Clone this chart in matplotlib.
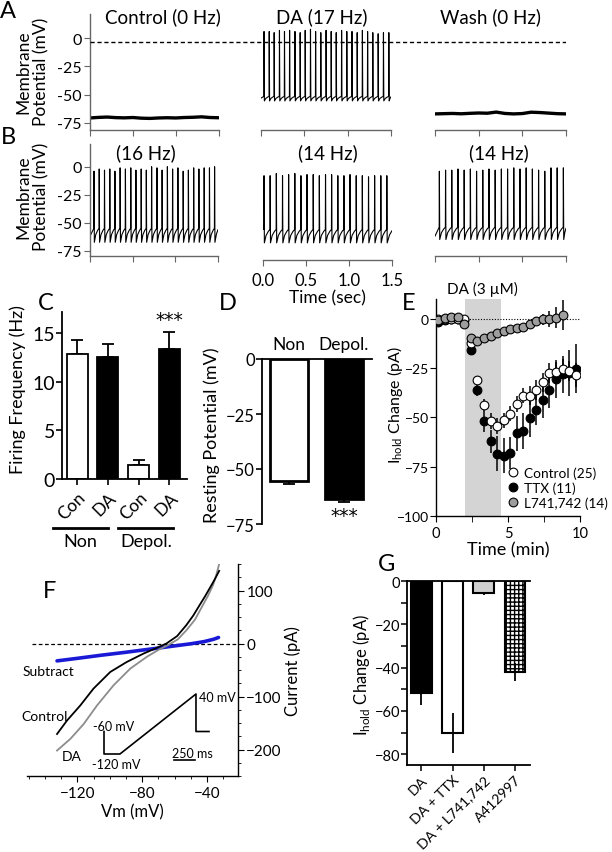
import numpy as np
import matplotlib
matplotlib.use('Agg')
import matplotlib.pyplot as plt
from matplotlib.lines import Line2D
from matplotlib.ticker import MultipleLocator, FixedLocator

plt.rcParams['font.family'] = ['Lato', 'DejaVu Sans']
plt.rcParams['hatch.linewidth'] = 1.0
plt.rcParams['axes.linewidth'] = 1.0

# ---------------- DATA ----------------
# Panel A / B : current-clamp traces (time in s, membrane potential in mV)
A_ctrl_t = [0.0, 0.1, 0.2, 0.3, 0.4, 0.5, 0.6, 0.7, 0.8, 0.9, 1.0, 1.1, 1.2, 1.3, 1.4, 1.5]
A_ctrl_v = [-70.6, -70.1, -69.8, -70.3, -70.5, -70.2, -70.8, -71.0, -70.6, -70.4, -70.6, -70.2, -70.0, -69.6, -70.2, -70.4]
A_wash_v = [-67.0, -66.8, -66.6, -66.9, -66.5, -66.2, -66.4, -65.4, -66.6, -67.0, -66.7, -65.5, -65.8, -66.3, -66.8, -67.0]

A_da_spk_t = [0.035, 0.095, 0.152, 0.213, 0.271, 0.330, 0.392, 0.452, 0.510, 0.571, 0.630,
              0.690, 0.751, 0.810, 0.868, 0.930, 0.990, 1.050, 1.110, 1.170, 1.230, 1.290,
              1.352, 1.413, 1.475]
A_da_peak = [6, 6, 5, 7, 6, 7, 6, 5, 7, 8, 6, 5, 7, 6, 5, 7, 6, 6, 5, 7, 6, 5, 4, 5, 5]

B1_spk_t = [0.047, 0.108, 0.170, 0.232, 0.292, 0.353, 0.415, 0.478, 0.538, 0.600, 0.660, 0.722,
            0.785, 0.845, 0.907, 0.968, 1.030, 1.092, 1.153, 1.215, 1.276, 1.338, 1.400, 1.460]
B1_peak = [-4, -2, -3, -2, -4, -1, -2, -1, -3, -2, -3, 0, -1, -3, 0, -2, -1, -4, -3, -1, -2, -1, -1, 0]
B2_spk_t = [0.012, 0.083, 0.155, 0.227, 0.298, 0.370, 0.441, 0.512, 0.584, 0.655, 0.727,
            0.798, 0.870, 0.941, 1.012, 1.084, 1.155, 1.227, 1.298, 1.370, 1.440]
B2_peak = [-8, -8, -6, -8, -7, -6, -8, -7, -7, -8, -7, -7, -8, -8, -7, -8, -8, -9, -8, -8, -8]
B3_spk_t = [0.050, 0.121, 0.192, 0.263, 0.334, 0.405, 0.476, 0.547, 0.618, 0.689, 0.760,
            0.831, 0.902, 0.973, 1.044, 1.115, 1.186, 1.257, 1.328, 1.399, 1.470]
B3_peak = [-4, -3, -3, -2, -3, -2, -4, -3, -2, -3, -2, -2, -1, -2, -1, -2, -3, -4, -1, -1, -1]

A_titles = ['Control (0 Hz)', 'DA (17 Hz)', 'Wash (0 Hz)']
B_titles = ['(16 Hz)', '(14 Hz)', '(14 Hz)']

# Panel C
C_labels = ['Con', 'DA', 'Con', 'DA']
C_values = [12.85, 12.5, 1.4, 13.3]
C_err = [1.45, 1.3, 0.5, 1.8]
C_colors = ['white', 'black', 'white', 'black']

# Panel D
D_labels = ['Non', 'Depol.']
D_values = [-55.4, -63.7]
D_err = [1.2, 1.2]

# Panel E (time in min, holding current change in pA)
E_time = [0.15, 0.6, 1.06, 1.51, 1.97, 2.42, 2.88, 3.33, 3.79, 4.24, 4.7, 5.15, 5.61,
          6.06, 6.52, 6.97, 7.43, 7.88, 8.34, 8.79, 9.25, 9.7]
E_ctrl = [0, 0, 0, 0, 0, -12, -31.2, -43.8, -51.8, -54.3, -51.5, -48, -43.1, -38.9, -38.9,
          -35.9, -32.2, -27.5, -27.0, -25.5, -26.5, -28.3]
E_ctrl_err = [1, 1, 1, 1, 1, 2, 2, 3, 4, 4, 4, 4, 4, 4, 5, 5, 5, 5, 5, 5, 5, 6]
E_ttx = [-1.7, -0.5, 0, 0, -0.5, -15.6, -35.9, -52, -62.2, -68.3, -69.4, -68, -58.1, -56.8,
         -50.1, -46, -41.3, -36.2, -30.5, -28.2, -27.5, -25.3]
E_ttx_err = [1, 1, 1, 1, 1, 2, 3, 5.5, 6, 9, 9, 8, 9, 9, 10, 8, 9, 9, 9.5, 9.5, 11.7, 12.5]
E_l74 = [-0.5, 0.3, 1.2, 1.2, -2.6, -9.6, -11.1, -9.9, -8.7, -7.4, -6.0, -5.0, -4.5, -4.3,
         -2.7, -1.0, -0.3, 0.0, 0.7, 2.0]
E_l74_err = [1, 1, 1, 1, 1, 1.5, 1.5, 1.5, 1.5, 1.5, 1.5, 1.5, 1.5, 1.5, 2, 2, 3, 4, 5.5, 7.5]
E_labels = ['Control (25)', 'TTX (11)', 'L741,742 (14)']
E_drug = (2.0, 4.5)

# Panel F : I-V ramp (Vm in mV, current in pA)
F_ctrl_v = [-132.5, -126.4, -118.2, -110.0, -99.7, -89.5, -79.2, -72.0, -65.1, -58.5, -52.8, -48.5, -44.6, -41.5, -38.5, -35.5, -32.6]
F_ctrl_i = [-170.8, -145.5, -117.0, -85.0, -53.7, -34.8, -19.0, -9.5, 0.0, 14.0, 34.8, 53.0, 72.7, 88.0, 104.0, 120.0, 137.0]
F_da_v = [-132.5, -124.3, -116.1, -107.9, -97.7, -87.4, -77.1, -70.0, -64.0, -58.0, -52.8, -47.5, -42.6, -39.5, -36.4, -34.5, -32.6]
F_da_i = [-202.0, -180.0, -152.0, -117.0, -79.0, -47.4, -25.0, -12.0, -3.0, 8.0, 25.0, 45.0, 72.7, 90.0, 110.0, 128.0, 150.0]
F_sub_v = [-132.5, -120.0, -105.0, -90.0, -80.0, -69.0, -60.0, -50.0, -42.0, -36.0, -33.0]
F_sub_i = [-32.8, -28.0, -22.0, -16.5, -12.5, -8.2, -4.5, -0.5, 3.5, 8.0, 11.4]
F_prot_t = [0, 0, 190, 1095, 1095, 1250]
F_prot_v = [-60, -120, -120, 40, -60, -60]

# Panel G
G_labels = ['DA', 'DA + TTX', 'DA + L741,742', 'A412997']
G_values = [-51.8, -70.3, -5.7, -42.0]
G_err = [5.7, 9.3, 0.8, 4.0]

# ---------------- FIGURE ----------------
W, H = 612, 853
fig = plt.figure(figsize=(W / 100, H / 100), dpi=100)


def add_ax(x0, y0, x1, y1):
    return fig.add_axes([x0 / W, 1 - y1 / H, (x1 - x0) / W, (y1 - y0) / H])


def ftext(x, y, s, **kw):
    kw.setdefault('ha', 'center')
    kw.setdefault('va', 'center')
    return fig.text(x / W, 1 - y / H, s, **kw)


def fline(xs, ys, **kw):
    fig.add_artist(Line2D([x / W for x in xs], [1 - y / H for y in ys], transform=fig.transFigure, **kw))


def spike_trace(spk_t, peaks, trough, thresh, v_start, t_end=1.5):
    ts, vs = [0.0], [v_start]
    for k, (tk, pk) in enumerate(zip(spk_t, peaks)):
        ts += [tk - 0.002, tk, tk + 0.004]
        vs += [thresh, pk, trough]
        nxt = spk_t[k + 1] - 0.002 if k + 1 < len(spk_t) else t_end
        isi = nxt - (tk + 0.004)
        if k + 1 < len(spk_t):
            ts += [tk + 0.004 + 0.3 * isi, tk + 0.004 + 0.7 * isi]
            vs += [trough + 0.55 * (thresh - trough), trough + 0.85 * (thresh - trough)]
        else:
            ts += [tk + 0.004 + 0.5 * isi, t_end]
            vs += [trough + 0.6 * (thresh - trough), trough + 0.9 * (thresh - trough)]
    return ts, vs


SPC = '#666666'
STAR = dict(family='DejaVu Sans', fontsize=13.5)


def trace_axes(x0, x1, y0, y1, ylim, left):
    ax = add_ax(x0, y0, x1, y1)
    ax.set_xlim(0, 1.5)
    ax.set_ylim(*ylim)
    ax.patch.set_alpha(0)
    for s in ['top', 'right']:
        ax.spines[s].set_visible(False)
    ax.spines['bottom'].set_color(SPC)
    ax.spines['left'].set_color(SPC)
    ax.spines['left'].set_visible(left)
    ax.set_xticks([0, 0.5, 1.0, 1.5])
    ax.set_xticklabels([])
    ax.tick_params(axis='x', length=4, color=SPC, labelsize=12)
    if left:
        ax.set_yticks([0, -25, -50, -75])
        ax.set_yticklabels(['0', '-25', '-50', '-75'])
        ax.tick_params(axis='y', length=4, color=SPC, labelsize=11.5, pad=2)
    else:
        ax.set_yticks([])
    return ax


# ---- Panel A ----
segA = [(90, 218.6), (261, 391), (435, 566)]
ylimA = (-81, 21.5)
axA = [trace_axes(x0, x1, 15, 130.7, ylimA, i == 0) for i, (x0, x1) in enumerate(segA)]
axA[0].plot(A_ctrl_t, A_ctrl_v, color='k', lw=2.4, solid_joinstyle='round')
ts, vs = spike_trace(A_da_spk_t, A_da_peak, -55.5, -51.5, -53.0)
axA[1].plot(ts, vs, color='k', lw=0.8)
axA[2].plot(A_ctrl_t, A_wash_v, color='k', lw=2.4)
ovA = add_ax(90, 15, 566, 130.7)
ovA.set_ylim(*ylimA)
ovA.set_xlim(0, 1)
ovA.axis('off')
ovA.axhline(-3, color='k', lw=1.0, ls=(0, (3, 2)))
ftext(162.5, 17, A_titles[0], fontsize=13.5)
ftext(321.5, 17, A_titles[1], fontsize=13.5)
ftext(490, 17, A_titles[2], fontsize=13.5)
ftext(32, 72, 'Membrane\nPotential (mV)', rotation=90, fontsize=12.5, linespacing=1.15)

# ---- Panel B ----
segB = [(90, 218), (263, 392), (435, 566)]
ylimB = (-80, 20.3)
axB = [trace_axes(x0, x1, 145, 257.3, ylimB, i == 0) for i, (x0, x1) in enumerate(segB)]
ts, vs = spike_trace(B1_spk_t, B1_peak, -67.5, -55.0, -62.0)
axB[0].plot(ts, vs, color='k', lw=0.8)
ts, vs = spike_trace(B2_spk_t, B2_peak, -68.0, -56.0, -52.0)
axB[1].plot(ts, vs, color='k', lw=0.8)
ts, vs = spike_trace(B3_spk_t, B3_peak, -65.0, -54.0, -62.0)
axB[2].plot(ts, vs, color='k', lw=0.8)
axB[1].spines['bottom'].set_position(('outward', 2.5))
axB[1].set_xticklabels(['0.0', '0.5', '1.0', '1.5'])
axB[1].tick_params(axis='x', labelsize=12, pad=5)
ftext(327, 298, 'Time (sec)', fontsize=12.5)
ftext(146, 153, B_titles[0], fontsize=13.5)
ftext(328, 153, B_titles[1], fontsize=13.5)
ftext(499, 153, B_titles[2], fontsize=13.5)
ftext(32, 197, 'Membrane\nPotential (mV)', rotation=90, fontsize=12.5, linespacing=1.15)

# ---- Panel C ----
axC = add_ax(62, 313.3, 187, 480)
xC = np.arange(len(C_values))
axC.bar(xC, C_values, width=0.68, color=C_colors, edgecolor='k', lw=1.3, zorder=2)
axC.errorbar(xC, C_values, yerr=[np.zeros(len(C_err)), C_err], fmt='none', ecolor='k',
             elinewidth=1.3, capsize=4, capthick=1.3, zorder=1)
axC.set_xlim(-0.49, 3.57)
axC.set_ylim(0, 17.1)
for s in ['top', 'right']:
    axC.spines[s].set_visible(False)
axC.spines['left'].set_linewidth(1.3)
axC.spines['bottom'].set_linewidth(1.3)
axC.set_yticks([0, 5, 10, 15])
axC.tick_params(axis='y', labelsize=14, length=4, width=1.2, pad=1)
axC.set_xticks(xC)
axC.set_xticklabels(C_labels, rotation=45, ha='right', va='top', rotation_mode='anchor')
axC.tick_params(axis='x', labelsize=12.5, length=4, width=1.2, pad=3)
axC.text(3, 15.4, '***', ha='center', va='bottom', **STAR)
fline([53, 108], [529, 529], color='k', lw=2.0)
fline([118, 173], [529, 529], color='k', lw=2.0)
ftext(80, 542, 'Non', fontsize=13)
ftext(146, 542, 'Depol.', fontsize=13)
ftext(18, 390, 'Firing Frequency (Hz)', rotation=90, fontsize=13)

# ---- Panel D ----
axD = add_ax(262, 360, 372, 525)
xD = np.arange(len(D_values))
axD.bar(xD, D_values, width=0.69, color=['white', 'black'], edgecolor='k', lw=2.0, zorder=2)
axD.errorbar(xD, D_values, yerr=[D_err, np.zeros(len(D_err))], fmt='none', ecolor='k',
             elinewidth=1.3, capsize=4, capthick=1.3, zorder=1)
axD.set_xlim(-0.49, 1.51)
axD.set_ylim(-75, 0)
for s in ['right', 'bottom']:
    axD.spines[s].set_visible(False)
axD.spines['left'].set_linewidth(1.3)
axD.spines['top'].set_linewidth(1.3)
axD.set_xticks([])
axD.set_yticks([0, -25, -50, -75])
axD.tick_params(axis='y', labelsize=12, length=4, width=1.2, pad=1)
for x, lab in zip(xD, D_labels):
    axD.text(x, 6.8, lab, ha='center', va='center', fontsize=12.5, clip_on=False)
axD.text(1, -66.8, '***', ha='center', va='top', clip_on=False, **STAR)
ftext(212, 435, 'Resting Potential (mV)', rotation=90, fontsize=13)

# ---- Panel E ----
axE = add_ax(436, 300, 580, 517)
axE.set_xlim(0, 10)
axE.set_ylim(-100, 10.1)
axE.axvspan(E_drug[0], E_drug[1], color='#d4d4d4', lw=0, zorder=0)
axE.plot([0, 10], [0, 0], color='k', lw=0.8, ls=(0, (1, 1.5)), zorder=1)
mk = dict(fmt='o', ms=6.3, mec='k', mew=0.8, ecolor='k', elinewidth=1.1, capsize=0)
axE.errorbar(E_time, E_ttx, yerr=E_ttx_err, mfc='black', zorder=3, **mk)
axE.errorbar(E_time, E_ctrl, yerr=E_ctrl_err, mfc='white', zorder=4, **mk)
axE.errorbar(E_time[:len(E_l74)], E_l74, yerr=E_l74_err, mfc='#9e9e9e', zorder=5, **mk)
for s in ['top', 'right']:
    axE.spines[s].set_visible(False)
axE.set_yticks([0, -25, -50, -75, -100])
axE.set_xticks([0, 5, 10])
axE.xaxis.set_minor_locator(FixedLocator([2.5, 7.5]))
axE.tick_params(axis='both', which='both', labelsize=10.5, length=4)
axE.tick_params(axis='y', labelsize=10, pad=1)
axE.set_xlabel('Time (min)', fontsize=13, labelpad=1)
axE.text(3.25, 11.5, 'DA (3 \u00b5M)', ha='center', va='bottom', fontsize=11)
handles = [Line2D([], [], marker='o', ls='none', ms=6.3, mec='k', mew=0.8, mfc=c)
           for c in ['white', 'black', '#9e9e9e']]
axE.legend(handles, E_labels, loc='upper left', bbox_to_anchor=(508 / W, 1 - 467 / H),
           bbox_transform=fig.transFigure, frameon=False, fontsize=9.8, handlelength=0.8,
           handletextpad=0.35, labelspacing=0.2, borderpad=0, borderaxespad=0)
ftext(395, 405, r'I$_{\mathregular{hold}}$ Change (pA)', rotation=90, fontsize=11.5)

# ---- Panel F ----
axF = add_ax(27, 565, 238, 777)
axF.set_xlim(-151, -21)
axF.set_ylim(-250, 150)
axF.plot([-148, -21], [0, 0], color='k', lw=0.9, ls=(0, (3, 2)))
axF.plot(F_sub_v, F_sub_i, color='#1a1ad6', lw=2.6, solid_capstyle='round')
axF.plot(F_da_v, F_da_i, color='#8c8c8c', lw=1.3)
axF.plot(F_ctrl_v, F_ctrl_i, color='k', lw=1.3)
for s in ['top', 'left']:
    axF.spines[s].set_visible(False)
axF.yaxis.tick_right()
axF.yaxis.set_label_position('right')
axF.set_xticks([-120, -80, -40])
axF.xaxis.set_minor_locator(MultipleLocator(10))
axF.set_yticks([-200, -100, 0, 100])
axF.yaxis.set_minor_locator(MultipleLocator(25))
axF.tick_params(axis='both', which='major', labelsize=11, length=4)
axF.tick_params(axis='both', which='minor', length=2.5)
axF.tick_params(axis='y', pad=2)
axF.set_xlabel('Vm (mV)', fontsize=12, labelpad=2)
axF.set_ylabel('Current (pA)', fontsize=12, labelpad=2)
ftext(23, 672, 'Subtract', fontsize=10, ha='left')
ftext(21, 717, 'Control', fontsize=10, ha='left')
ftext(62, 757, 'DA', fontsize=10, ha='left')
# voltage protocol inset
axP = add_ax(104, 695, 209, 755)
axP.set_xlim(0, 1250)
axP.set_ylim(-120, 40)
axP.axis('off')
axP.plot(F_prot_t, F_prot_v, color='k', lw=1.2, clip_on=False)
axP.plot([833, 1083], [-136, -136], color='k', lw=1.2, clip_on=False)
ftext(93, 727, '-60 mV', fontsize=9, ha='left')
ftext(92.5, 765, '-120 mV', fontsize=9, ha='left')
ftext(199, 698, '40 mV', fontsize=9, ha='left')
ftext(192.5, 754, '250 ms', fontsize=9)

# ---- Panel G ----
axG = add_ax(407, 582, 530, 766)
xG = np.arange(len(G_values))
gcols = ['black', 'white', '#cfcfcf', 'white']
bars = axG.bar(xG, G_values, width=0.67, color=gcols, edgecolor='k', lw=1.5, zorder=2)
bars[3].set_hatch('++++')
axG.errorbar(xG, G_values, yerr=G_err, fmt='none', ecolor='k', elinewidth=1.3, capsize=0, zorder=3)
axG.set_xlim(-0.46, 3.48)
axG.set_ylim(-85, 0)
axG.spines['right'].set_visible(False)
for s in ['left', 'top', 'bottom']:
    axG.spines[s].set_linewidth(1.3)
axG.set_yticks([0, -20, -40, -60, -80])
axG.yaxis.set_minor_locator(MultipleLocator(10))
axG.tick_params(axis='y', which='both', labelsize=10.5, length=4, width=1.1, pad=1)
axG.set_xticks(xG)
axG.set_xticklabels(G_labels, rotation=45, ha='right', va='top', rotation_mode='anchor')
axG.tick_params(axis='x', labelsize=10.3, length=4, width=1.1, pad=2)
ftext(362, 675, r'I$_{\mathregular{hold}}$ Change (pA)', rotation=90, fontsize=12)

# ---- panel letters ----
for lab, (x, y) in zip('ABCDEFG', [(8, 11), (8, 138), (46, 303), (228, 303), (409, 303), (50, 592), (387, 565)]):
    ftext(x, y, lab, fontsize=17)

fig.savefig('out.png', dpi=100)
